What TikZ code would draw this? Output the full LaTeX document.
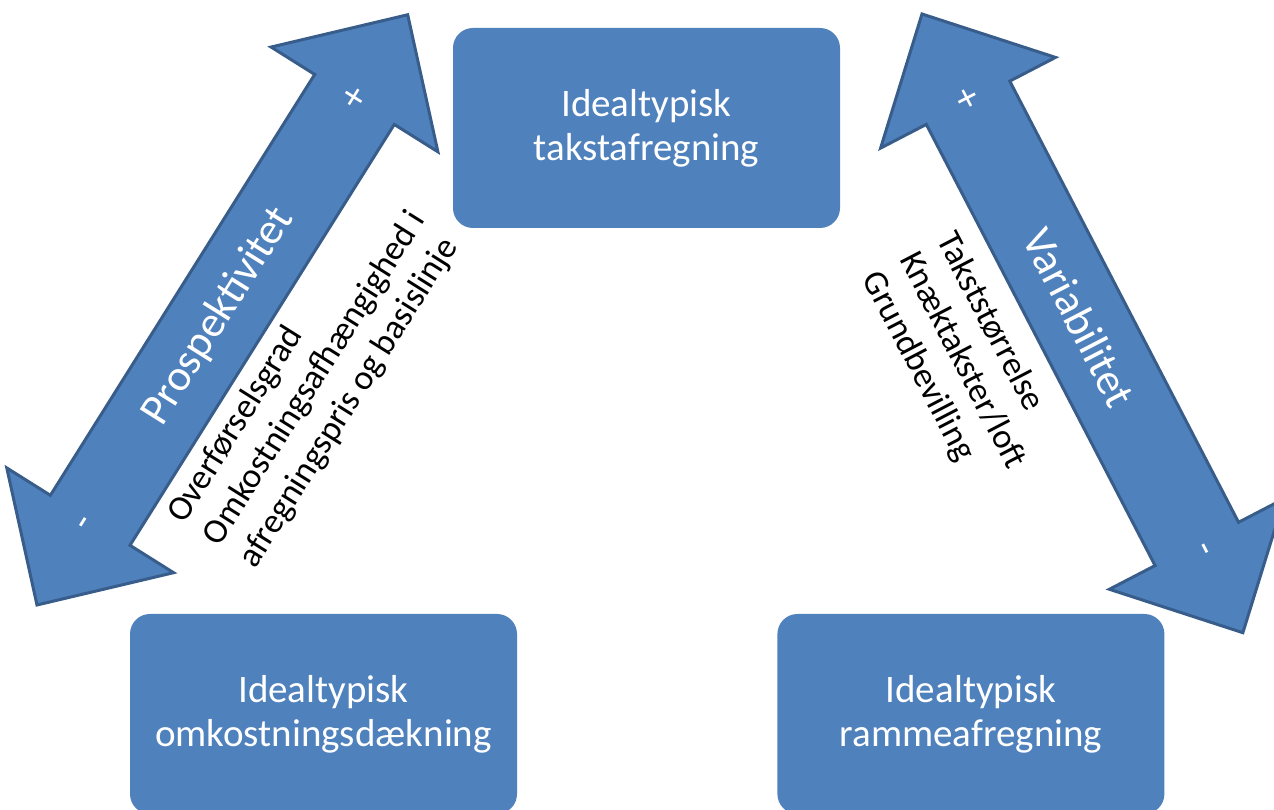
\documentclass[tikz,border=0pt]{standalone}
\usepackage{fontspec}
\setmainfont{Carlito}
\usetikzlibrary{positioning}

\definecolor{boxblue}{HTML}{4F81BD}
\definecolor{edgeblue}{HTML}{385D8A}

\tikzset{
  arrowbody/.style={fill=boxblue, draw=edgeblue, line width=3pt, line join=miter},
  idealbox/.style={fill=boxblue, rounded corners=20pt, minimum width=387pt, minimum height=200pt,
    text=white, align=center, font=\fontsize{39}{44}\selectfont},
  axislabel/.style={text=white, inner sep=0pt, transform shape, font=\fontsize{44}{50}\selectfont},
  signlabel/.style={text=white, inner sep=0pt, transform shape, font=\fontsize{40}{42}\selectfont},
  sidenote/.style={text=black, align=left, inner sep=0pt, anchor=west, transform shape,
    font=\fontsize{35}{42}\selectfont}
}

% double arrow, 697 long, drawn from one tip along the x axis of the scope
\newcommand{\twowayarrow}{%
  \draw[arrowbody] (0,0)--(100,98.5)--(100,47)--(597,47)--(597,98.5)--(697,0)
    --(597,-98.5)--(597,-47)--(100,-47)--(100,-98.5)--cycle;}

\begin{document}
\begin{tikzpicture}[x=1pt,y=1pt]
  \useasboundingbox (0,0) rectangle (1274,810);
  \clip (0,0) rectangle (1274,810);

  % boxes
  \node[idealbox] (takst) at (646.5,682) {Idealtypisk\\takstafregning};
  \node[idealbox] (omk) at (323.5,96) {Idealtypisk\\omkostningsdækning};
  \node[idealbox, right=260pt of omk] (ramme) {Idealtypisk\\rammeafregning};

  % left arrow
  \begin{scope}[shift={(37,205)}, rotate=57.87]
    \twowayarrow
    \node[axislabel] (prosp) at (341,0) {Prospektivitet};
    \node[signlabel] (prosp-minus) at (94,0) {-};
    \node[signlabel] (prosp-plus) at (598,0) {+};
    \node[sidenote] (prosp-note) at (146,-115) {Overførselsgrad\\Omkostningsafhængighed i\\afregningspris og basislinje};
  \end{scope}

  % right arrow
  \begin{scope}[shift={(922,796)}, rotate=-62.59]
    \twowayarrow
    \node[axislabel] (varia) at (342,0) {Variabilitet};
    \node[signlabel] (varia-plus) at (96,0) {+};
    \node[signlabel] (varia-minus) at (605,0) {-};
    \node[sidenote] (varia-note) at (207,-124) {Takststørrelse\\Knæktakster/loft\\Grundbevilling};
  \end{scope}
\end{tikzpicture}
\end{document}
